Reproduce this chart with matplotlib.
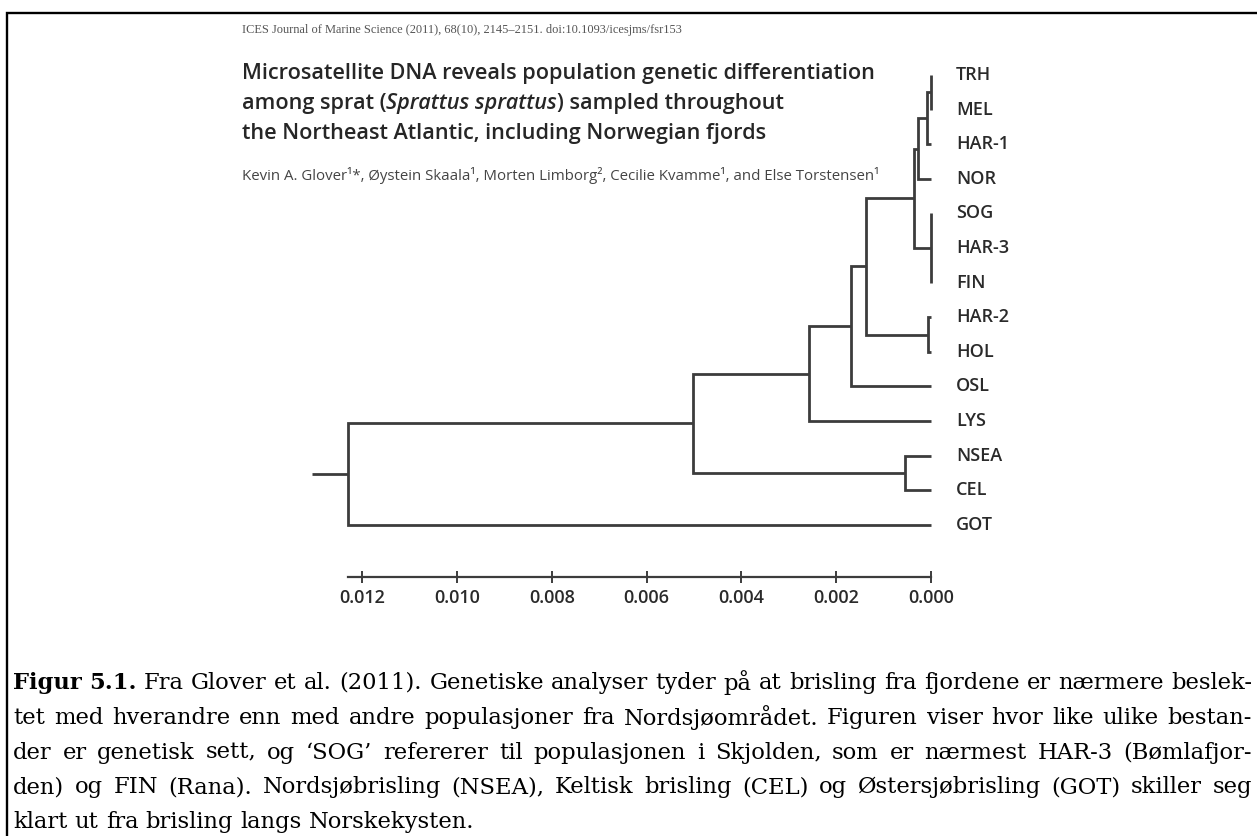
import matplotlib
matplotlib.use("Agg")
import matplotlib.pyplot as plt

W, H = 1257, 836

# ---- data -------------------------------------------------------------
leaves = ["TRH", "MEL", "HAR-1", "NOR", "SOG", "HAR-3", "FIN",
          "HAR-2", "HOL", "OSL", "LYS", "NSEA", "CEL", "GOT"]
# clusters are numbered c0, c1, ... in the order given here
clusters = [("TRH", "MEL"), ("c0", "HAR-1"), ("c1", "NOR"),
            ("SOG", "HAR-3", "FIN"), ("c2", "c3"), ("HAR-2", "HOL"),
            ("c4", "c5"), ("c6", "OSL"), ("c7", "LYS"), ("NSEA", "CEL"),
            ("c8", "c9"), ("c10", "GOT")]
cluster_heights = [0.0, 0.00008, 0.00027, 0.0, 0.00036, 0.00006,
                   0.00137, 0.00168, 0.00257, 0.00055, 0.00502, 0.0123]
root_stem = 0.00076
scale_ticks = [0.012, 0.010, 0.008, 0.006, 0.004, 0.002, 0.000]
scale_labels = ["0.012", "0.010", "0.008", "0.006", "0.004", "0.002", "0.000"]

header = "ICES Journal of Marine Science (2011), 68(10), 2145\u20132151. doi:10.1093/icesjms/fsr153"
title_lines = [
    [("Microsatellite DNA reveals population genetic differentiation", "normal")],
    [("among sprat (", "normal"), ("Sprattus sprattus", "italic"), (") sampled throughout", "normal")],
    [("the Northeast Atlantic, including Norwegian fjords", "normal")],
]
authors = "Kevin A. Glover\u00b9*, \u00d8ystein Skaala\u00b9, Morten Limborg\u00b2, Cecilie Kvamme\u00b9, and Else Torstensen\u00b9"
caption_lines = [
    "Figur 5.1. Fra Glover et al. (2011). Genetiske analyser tyder p\u00e5 at brisling fra fjordene er n\u00e6rmere beslek-",
    "tet med hverandre enn med andre populasjoner fra Nordsj\u00f8omr\u00e5det. Figuren viser hvor like ulike bestan-",
    "der er genetisk sett, og \u2018SOG\u2019 refererer til populasjonen i Skjolden, som er n\u00e6rmest HAR-3 (B\u00f8mlafjor-",
    "den) og FIN (Rana). Nordsj\u00f8brisling (NSEA), Keltisk brisling (CEL) og \u00d8stersj\u00f8brisling (GOT) skiller seg",
    "klart ut fra brisling langs Norskekysten.",
]

# ---- figure -----------------------------------------------------------
fig = plt.figure(figsize=(W / 100, H / 100), dpi=100)
fig.patch.set_facecolor("white")

bg = fig.add_axes([0, 0, 1, 1], zorder=0)
bg.set_xlim(0, W)
bg.set_ylim(H, 0)
bg.axis("off")
renderer = fig.canvas.get_renderer()


def text_width(s, **kw):
    t = bg.text(0, 0, s, **kw)
    w = t.get_window_extent(renderer).width
    t.remove()
    return w


def fitted_size(s, target, base=10, **kw):
    return base * target / text_width(s, fontsize=base, **kw)


# frame
bg.plot([7, 7, W + 10], [H + 10, 13, 13], color="black", lw=1.7,
        solid_joinstyle="miter")

# journal header
hdr_fs = fitted_size(header, 438, family="Liberation Serif")
bg.text(242, 30, header, family="Liberation Serif", fontsize=hdr_fs,
        color="#555555", va="center", ha="left")

# paper title
tkw = dict(family="Open Sans", weight="semibold", color="#262626")
title_fs = fitted_size(title_lines[0][0][0], 630, **tkw)
for row, pieces in zip([73, 103, 133], title_lines):
    x = 242
    for txt, style in pieces:
        bg.text(x, row, txt, fontsize=title_fs, style=style, va="center", ha="left", **tkw)
        x += text_width(txt, fontsize=title_fs, style=style, **tkw)

# authors
akw = dict(family=["Open Sans", "DejaVu Sans"], color="#444444")
auth_fs = fitted_size(authors, 635, **akw)
bg.text(242, 175, authors, fontsize=auth_fs, va="center", ha="left", **akw)

# caption, justified between the frame and the right edge
ckw = dict(family="DejaVu Serif", color="black")
cap_left, cap_right = 13, 1252
base = 14
nat = max(text_width(l, fontsize=base, **ckw) for l in caption_lines[:4])
cap_fs = base * (cap_right - cap_left - 8) / nat
for i, line in enumerate(caption_lines):
    yy = 683 + 34.8 * i
    words = line.split(" ")
    weights = ["bold" if (i == 0 and k < 2) else "normal" for k in range(len(words))]
    widths = [text_width(w, fontsize=cap_fs, weight=wt, **ckw) for w, wt in zip(words, weights)]
    if i < len(caption_lines) - 1:
        gap = (cap_right - cap_left - sum(widths)) / (len(words) - 1)
    else:
        gap = text_width("a a", fontsize=cap_fs, **ckw) - 2 * text_width("a", fontsize=cap_fs, **ckw)
    x = cap_left
    for w, wt, wd in zip(words, weights, widths):
        bg.text(x, yy, w, fontsize=cap_fs, weight=wt, va="center", ha="left", **ckw)
        x += wd + gap

# ---- dendrogram ------------------------------------------------------
X0, PX_PER_UNIT = 931, 47400.0
Y0, PX_PER_LEAF = 75, 34.6
left_px, right_px, top_px, bottom_px = 290, 1020, 40, 577
ax = fig.add_axes([left_px / W, 1 - bottom_px / H, (right_px - left_px) / W,
                   (bottom_px - top_px) / H], zorder=2)
ax.patch.set_visible(False)
ax.set_xlim((X0 - left_px) / PX_PER_UNIT, (X0 - right_px) / PX_PER_UNIT)
ax.set_ylim((bottom_px - Y0) / PX_PER_LEAF, (top_px - Y0) / PX_PER_LEAF)

tree_col = "#3c3c3c"
lw = 2.0
pos = {name: (0.0, float(i)) for i, name in enumerate(leaves)}
for k, (kids, h) in enumerate(zip(clusters, cluster_heights)):
    ys = [pos[c][1] for c in kids]
    first, last = kids[0], kids[-1]
    ax.plot([pos[first][0], h, h, pos[last][0]],
            [pos[first][1], pos[first][1], pos[last][1], pos[last][1]],
            color=tree_col, lw=lw, solid_joinstyle="miter",
            solid_capstyle="butt", clip_on=False)
    for c in kids[1:-1]:
        ax.plot([h, pos[c][0]], [pos[c][1], pos[c][1]], color=tree_col,
                lw=lw, solid_capstyle="butt", clip_on=False)
    pos["c%d" % k] = (h, (min(ys) + max(ys)) / 2)

root_h, root_y = pos["c%d" % (len(clusters) - 1)]
ax.plot([root_h, root_h + root_stem], [root_y, root_y], color=tree_col,
        lw=lw, solid_capstyle="butt", clip_on=False)

lab_kw = dict(family="Open Sans", weight="semibold", color="#2a2a2a")
for i, name in enumerate(leaves):
    ax.text(-25 / PX_PER_UNIT, i, name, fontsize=13, va="center", ha="left", **lab_kw)

# distance scale bar
for s in ["top", "left", "right"]:
    ax.spines[s].set_visible(False)
ax.spines["bottom"].set_bounds(0, root_h)
ax.spines["bottom"].set_color(tree_col)
ax.spines["bottom"].set_linewidth(1.6)
ax.set_yticks([])
ax.set_xticks(scale_ticks)
ax.set_xticklabels(scale_labels, **lab_kw)
ax.tick_params(axis="x", direction="inout", length=9, width=1.4,
               color=tree_col, labelsize=13, pad=4, labelcolor="#2a2a2a")

fig.savefig("out.png", dpi=100, facecolor="white")
